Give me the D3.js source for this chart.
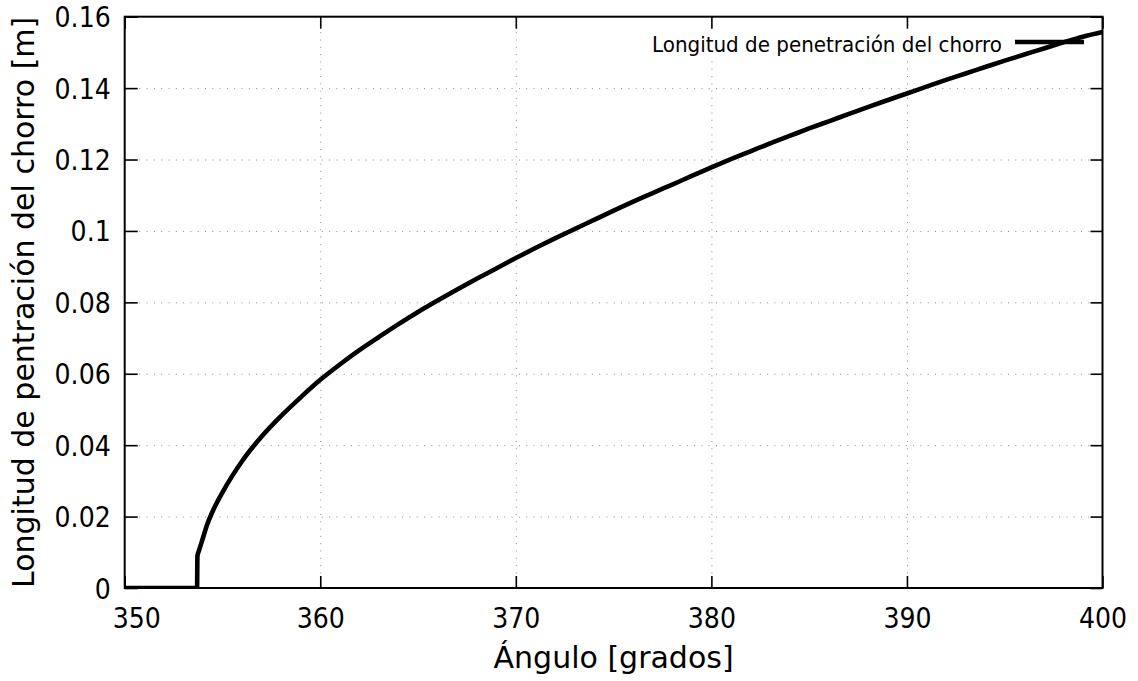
<!DOCTYPE html>
<html>
<head>
<meta charset="utf-8">
<script src="https://cdn.jsdelivr.net/npm/d3@7"></script>
<style>
  html, body { margin: 0; padding: 0; background: #fff; }
  svg { display: block; }
</style>
</head>
<body>
<svg id="chart" width="1138" height="681"></svg>
<script>
// Crank angle [degrees] and jet penetration length [m]
const angles = [
  350, 353.7, 353.72, 353.8, 354.0, 354.2, 354.5, 355, 355.5, 356, 357, 358, 359,
  360, 361, 362, 363, 364, 365, 366, 367, 368, 369,
  370, 371, 372, 373, 374, 375, 376, 377, 378, 379,
  380, 381, 382, 383, 384, 385, 386, 387, 388, 389,
  390, 391, 392, 393, 394, 395, 396, 397, 398, 399, 400
];
const penetration = [
  0, 0, 0.009, 0.0105, 0.014, 0.0175, 0.0215, 0.0268, 0.0314, 0.0355, 0.0424, 0.0482, 0.0534,
  0.0583, 0.0626, 0.0666, 0.0703, 0.0739, 0.0773, 0.0805, 0.0836, 0.0866, 0.0895,
  0.0924, 0.0952, 0.0979, 0.1005, 0.1031, 0.1057, 0.1082, 0.1106, 0.1130, 0.1154,
  0.1178, 0.1201, 0.1223, 0.1245, 0.1266, 0.1287, 0.1307, 0.1327, 0.1347, 0.1366,
  0.1385, 0.1404, 0.1423, 0.1441, 0.1459, 0.1477, 0.1494, 0.1511, 0.1528, 0.1544, 0.1557
];

const xTicks = [350, 360, 370, 380, 390, 400];
const yTicks = [0, 0.02, 0.04, 0.06, 0.08, 0.1, 0.12, 0.14, 0.16];
const yTickLabels = ["0", "0.02", "0.04", "0.06", "0.08", "0.1", "0.12", "0.14", "0.16"];

const seriesName = "Longitud de penetración del chorro";
const xTitle = "Ángulo [grados]";
const yTitle = "Longitud de pentración del chorro [m]";

const W = 1138, H = 681;
const m = { left: 124.7, top: 16.7, right: 35.5, bottom: 93 };
const x0 = m.left, x1 = W - m.right, y0 = H - m.bottom, y1 = m.top;

const x = d3.scaleLinear().domain([350, 400]).range([x0, x1]);
const y = d3.scaleLinear().domain([0, 0.16]).range([y0, y1]);

const svg = d3.select("#chart");
const FONT = "'DejaVu Sans', Verdana, sans-serif";

// dotted grid
const gridStyle = g => {
  g.select(".domain").remove();
  g.selectAll("line").attr("stroke", "#8a8a8a").attr("stroke-width", 1)
    .attr("stroke-dasharray", "1,6.3");
};
svg.append("g")
  .attr("transform", `translate(0,${y0})`)
  .call(d3.axisBottom(x).tickValues(xTicks.slice(1, -1)).tickSize(-(y0 - y1)).tickFormat(""))
  .call(gridStyle);
svg.append("g")
  .attr("transform", `translate(${x0},0)`)
  .call(d3.axisLeft(y).tickValues(yTicks.slice(1, -1)).tickSize(-(x1 - x0)).tickFormat(""))
  .call(gridStyle);

// key area is opaque
svg.append("rect")
  .attr("x", 644).attr("y", 29).attr("width", 446).attr("height", 27)
  .attr("fill", "#fff");

// clip for the curve
svg.append("clipPath").attr("id", "plotclip")
  .append("rect").attr("x", x0).attr("y", y1).attr("width", x1 - x0).attr("height", y0 - y1);

const pts = angles.map((a, i) => [a, penetration[i]]);
const line = d3.line().x(d => x(d[0])).y(d => y(d[1])).curve(d3.curveMonotoneX);
svg.append("path")
  .datum(pts)
  .attr("clip-path", "url(#plotclip)")
  .attr("d", line)
  .attr("fill", "none")
  .attr("stroke", "#000")
  .attr("stroke-width", 4.6)
  .attr("stroke-linejoin", "round")
  .attr("stroke-linecap", "butt");

// axes with inward ticks on all four sides
const tickStyle = g => {
  g.select(".domain").remove();
  g.selectAll(".tick line").attr("stroke", "#000").attr("stroke-width", 1.6);
};
const squeeze = (sel, k) => sel.each(function () {
  const len = this.getComputedTextLength();
  d3.select(this).attr("textLength", len * k).attr("lengthAdjust", "spacingAndGlyphs");
});

const gx = svg.append("g")
  .attr("transform", `translate(0,${y0})`)
  .call(d3.axisBottom(x).tickValues(xTicks).tickSize(-12).tickPadding(0).tickFormat(d3.format("d")))
  .call(tickStyle);
gx.selectAll(".tick text")
  .attr("y", 40).attr("dy", null)
  .attr("fill", "#000")
  .style("font-family", FONT).style("font-size", "28px")
  .call(squeeze, 0.9);
// first label sits just clear of the "0" on the value axis
gx.selectAll(".tick text").filter(d => d === xTicks[0])
  .attr("text-anchor", "start").attr("x", -12.5);

svg.append("g")
  .attr("transform", `translate(0,${y1})`)
  .call(d3.axisTop(x).tickValues(xTicks).tickSize(-12).tickFormat(""))
  .call(tickStyle);

const gy = svg.append("g")
  .attr("transform", `translate(${x0},0)`)
  .call(d3.axisLeft(y).tickValues(yTicks).tickSize(-13).tickPadding(0)
    .tickFormat((d, i) => yTickLabels[i]))
  .call(tickStyle);
gy.selectAll(".tick text")
  .attr("x", -14).attr("dy", null).attr("y", 10)
  .attr("fill", "#000")
  .style("font-family", FONT).style("font-size", "28px")
  .call(squeeze, 0.9);

svg.append("g")
  .attr("transform", `translate(${x1},0)`)
  .call(d3.axisRight(y).tickValues(yTicks).tickSize(-12).tickFormat(""))
  .call(tickStyle);

// border
svg.append("rect")
  .attr("x", x0).attr("y", y1).attr("width", x1 - x0).attr("height", y0 - y1)
  .attr("fill", "none").attr("stroke", "#000").attr("stroke-width", 2);

// axis titles
svg.append("text")
  .attr("x", (x0 + x1) / 2).attr("y", 668)
  .attr("text-anchor", "middle")
  .style("font-family", FONT).style("font-size", "30px")
  .text(xTitle);

svg.append("text")
  .attr("transform", `translate(34,${(y0 + y1) / 2}) rotate(-90)`)
  .attr("text-anchor", "middle")
  .style("font-family", FONT).style("font-size", "30px")
  .text(yTitle);

// key
svg.append("text")
  .attr("x", 1002).attr("y", 52)
  .attr("text-anchor", "end")
  .style("font-family", FONT).style("font-size", "21.5px")
  .text(seriesName)
  .attr("textLength", 350).attr("lengthAdjust", "spacingAndGlyphs");
svg.append("line")
  .attr("x1", 1015).attr("x2", 1084).attr("y1", 42).attr("y2", 42)
  .attr("stroke", "#000").attr("stroke-width", 4.6);
</script>
</body>
</html>
